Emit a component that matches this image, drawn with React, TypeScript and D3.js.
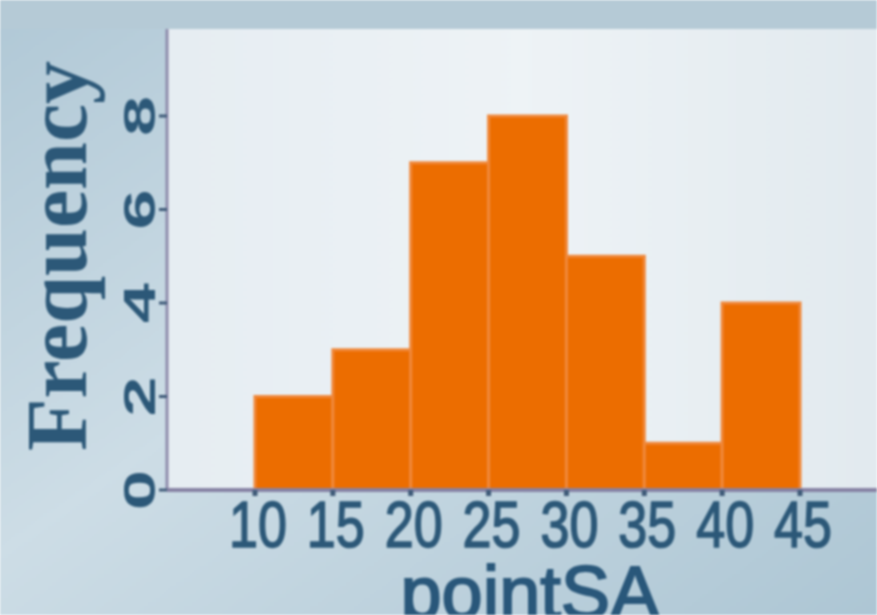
import { useEffect, useRef } from 'react';
import * as d3 from 'd3';

// histogram bins (pointSA) and counts
const binStarts = [10, 15, 20, 25, 30, 35, 40];
const binWidth = 5;
const counts = [2, 3, 7, 8, 5, 1, 4];
const xTicks = [10, 15, 20, 25, 30, 35, 40, 45];
const yTicks = [0, 2, 4, 6, 8];

const W = 877;
const H = 615;

const App = () => {
  const ref = useRef<SVGSVGElement | null>(null);

  useEffect(() => {
    const svg = d3.select(ref.current);
    svg.selectAll('*').remove();

    const left = 167;
    const top = 29;
    const bottom = 490;

    const x = d3.scaleLinear().domain([10, 45]).range([255, 800]);
    const y = d3.scaleLinear().domain([0, 8]).range([bottom, 116]);

    const defs = svg.append('defs');
    const bg = defs.append('linearGradient').attr('id', 'bg').attr('x1', 0).attr('y1', 0).attr('x2', 1).attr('y2', 1);
    bg.append('stop').attr('offset', '0%').attr('stop-color', '#b0c8d6');
    bg.append('stop').attr('offset', '45%').attr('stop-color', '#cddde6');
    bg.append('stop').attr('offset', '100%').attr('stop-color', '#adc6d4');
    const pf = defs.append('linearGradient').attr('id', 'pf').attr('x1', 0).attr('y1', 0).attr('x2', 1).attr('y2', 0);
    pf.append('stop').attr('offset', '0%').attr('stop-color', '#e6edf2');
    pf.append('stop').attr('offset', '50%').attr('stop-color', '#eef3f6');
    pf.append('stop').attr('offset', '100%').attr('stop-color', '#e2eaef');

    svg.append('rect').attr('width', W).attr('height', H).attr('fill', 'url(#bg)');
    // top band
    svg.append('rect').attr('width', W).attr('height', top).attr('fill', '#b5cad6');

    // plot panel
    svg.append('rect')
      .attr('x', left).attr('y', top)
      .attr('width', W - left).attr('height', bottom - top)
      .attr('fill', 'url(#pf)');

    // bars
    svg.append('g')
      .selectAll('rect')
      .data(binStarts)
      .join('rect')
      .attr('x', d => x(d))
      .attr('y', (d, i) => y(counts[i]))
      .attr('width', d => x(d + binWidth) - x(d))
      .attr('height', (d, i) => y(0) - y(counts[i]))
      .attr('fill', '#ec6d00')
      .attr('stroke', '#f0883a')
      .attr('stroke-width', 3);

    // axes lines
    svg.append('line').attr('x1', left).attr('x2', left).attr('y1', top).attr('y2', bottom)
      .attr('stroke', '#8e8cab').attr('stroke-width', 3);
    svg.append('line').attr('x1', left).attr('x2', W).attr('y1', bottom).attr('y2', bottom)
      .attr('stroke', '#8682a4').attr('stroke-width', 4);

    const txt = '#2c5878';

    // x ticks
    const xg = svg.append('g');
    xg.selectAll('line').data(xTicks).join('line')
      .attr('x1', d => x(d)).attr('x2', d => x(d))
      .attr('y1', bottom).attr('y2', bottom + 6)
      .attr('stroke', '#3e5a78').attr('stroke-width', 5);
    xg.selectAll('text').data(xTicks).join('text')
      .attr('x', d => x(d) + 3).attr('y', 547)
      .attr('text-anchor', 'middle')
      .attr('font-family', 'Liberation Sans, Arial, sans-serif')
      .attr('font-size', 65)
      .attr('textLength', 58)
      .attr('lengthAdjust', 'spacingAndGlyphs')
      .attr('stroke', txt).attr('stroke-width', 1.6)
      .attr('fill', txt)
      .text(d => d);

    // y ticks
    const yg = svg.append('g');
    yg.selectAll('line').data(yTicks).join('line')
      .attr('x1', left - 8).attr('x2', left)
      .attr('y1', d => y(d)).attr('y2', d => y(d))
      .attr('stroke', '#3e5a78').attr('stroke-width', 3);
    yg.selectAll('text').data(yTicks).join('text')
      .attr('transform', d => `translate(155,${y(d) + 20}) rotate(-90)`)
      .attr('font-family', 'Liberation Sans, Arial, sans-serif')
      .attr('font-weight', 'bold')
      .attr('font-size', 45)
      .attr('textLength', 40)
      .attr('lengthAdjust', 'spacingAndGlyphs')
      .attr('fill', txt)
      .text(d => d);

    // axis titles
    svg.append('text')
      .attr('transform', `translate(86,256) rotate(-90)`)
      .attr('text-anchor', 'middle')
      .attr('font-family', 'Liberation Serif, Times New Roman, serif')
      .attr('font-weight', 'bold')
      .attr('font-size', 86)
      .attr('fill', txt)
      .text('Frequency');

    svg.append('text')
      .attr('x', 530).attr('y', 618)
      .attr('text-anchor', 'middle')
      .attr('font-family', 'Liberation Sans, Arial, sans-serif')
      .attr('font-size', 74)
      .attr('stroke', '#29577a').attr('stroke-width', 2)
      .attr('fill', '#29577a')
      .text('pointSA');
  }, []);

  return (
    <svg
      ref={ref}
      width={W}
      height={H}
      style={{ position: 'fixed', left: 0, top: 0, filter: 'blur(1.3px)' }}
    />
  );
};

export default App;
